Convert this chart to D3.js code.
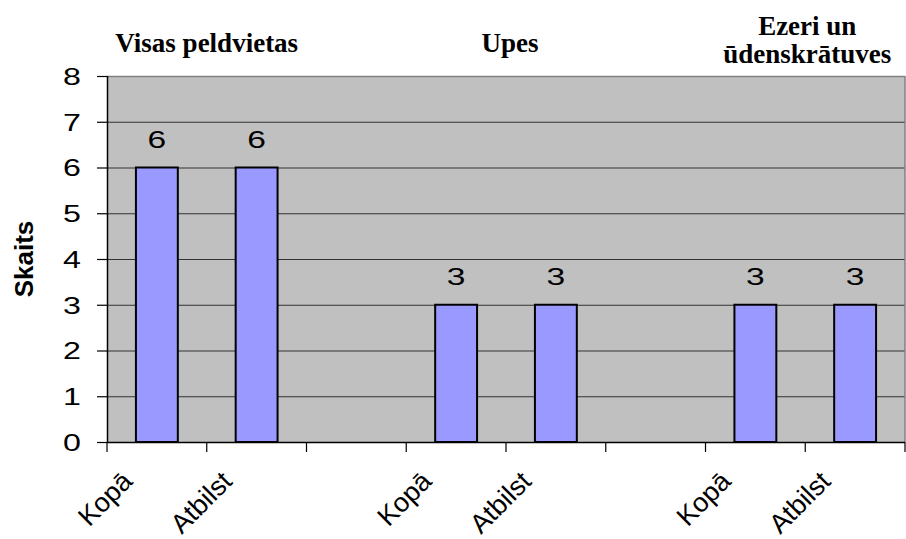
<!DOCTYPE html>
<html><head><meta charset="utf-8">
<script src="https://cdn.jsdelivr.net/npm/d3@7"></script>
<style>body{margin:0;background:#fff;}svg{display:block;}</style>
</head><body>
<svg id="c" width="906" height="539"></svg>
<script>
const categories = ["Kopā","Atbilst","","Kopā","Atbilst","","Kopā","Atbilst"];
const keys = ["a0","a1","gap1","b0","b1","gap2","c0","c1"];
const values = [6,6,null,3,3,null,3,3];
const groupTitles = [["Visas peldvietas"],["Upes"],["Ezeri un","ūdenskrātuves"]];
const groupCenters = [1,4,7]; // boundary index (between band i-1 and i)
const yTicks = [0,1,2,3,4,5,6,7,8];
const yLabel = "Skaits";

const svg = d3.select("#c");
const m = {l:107, r:1, t:76, b:97};
const W = 906, H = 539;
const SANS = "Liberation Sans, Arial, sans-serif";
const x = d3.scaleBand().domain(keys).range([m.l, W - m.r]).paddingInner(0).paddingOuter(0);
const y = d3.scaleLinear().domain([0,8]).range([H - m.b, m.t]);

// plot background
svg.append("rect").attr("x", m.l).attr("y", m.t).attr("width", W - m.r - m.l).attr("height", y(0) - m.t).attr("fill", "#C0C0C0");
// gridlines
svg.append("g").selectAll("line").data(yTicks.filter(d => d > 0 && d < 8)).join("line")
  .attr("x1", m.l).attr("x2", W - m.r).attr("y1", d => y(d) + 0.5).attr("y2", d => y(d) + 0.5)
  .attr("stroke", "#333").attr("stroke-width", 1);
// top/right border
svg.append("line").attr("x1", m.l).attr("x2", W - m.r).attr("y1", y(8)+0.5).attr("y2", y(8)+0.5).attr("stroke", "#808080").attr("stroke-width", 1.5);
svg.append("line").attr("x1", W - m.r).attr("x2", W - m.r).attr("y1", y(8)).attr("y2", y(0)).attr("stroke", "#808080").attr("stroke-width", 1.5);

// bars
const bw = x.bandwidth() * 0.42;
const data = keys.map((k,i) => ({k, v: values[i]})).filter(d => d.v != null);
svg.append("g").selectAll("rect").data(data).join("rect")
  .attr("x", d => x(d.k) + (x.bandwidth() - bw)/2)
  .attr("y", d => y(d.v))
  .attr("width", bw)
  .attr("height", d => y(0) - y(d.v))
  .attr("fill", "#9999FF").attr("stroke", "#000").attr("stroke-width", 2);
// value labels
svg.append("g").selectAll("text").data(data).join("text")
  .attr("transform", d => `translate(${x(d.k) + x.bandwidth()/2},${y(d.v) - 19.5}) scale(1.4,1)`)
  .attr("text-anchor", "middle")
  .attr("font-family", SANS).attr("font-size", 24).attr("fill", "#000")
  .text(d => d.v);

// y axis
const ya = svg.append("g").attr("transform", `translate(${m.l},0)`)
  .call(d3.axisLeft(y).tickValues(yTicks).tickSize(10).tickPadding(0).tickFormat(d3.format("d")));
ya.select(".domain").attr("stroke", "#000").attr("stroke-width", 1.5).attr("d", `M0.5,${y(8)}V${y(0)}`);
ya.selectAll(".tick line").attr("stroke", "#000").attr("stroke-width", 1.2);
ya.selectAll(".tick text").attr("font-family", SANS).attr("font-size", 23).attr("fill", "#000")
  .attr("x", 0).attr("dy", "0.36em").attr("text-anchor", "end")
  .attr("transform", "translate(-26,0) scale(1.4,1)");

// x axis
const xa = svg.append("g").attr("transform", `translate(0,${y(0)})`)
  .call(d3.axisBottom(x).tickSize(0).tickFormat((d,i) => categories[i]));
xa.select(".domain").attr("stroke", "#000").attr("stroke-width", 1.5).attr("d", `M${m.l},0.5H${W - m.r}`);
xa.selectAll(".tick text")
  .attr("font-family", SANS).attr("font-size", 27).attr("fill", "#000")
  .attr("text-anchor", "end").attr("dy", null).attr("y", 0)
  .attr("transform", "translate(-23,41) rotate(-45)");
// x tick marks at band boundaries
const bounds = keys.map(k => x(k)).concat([x.range()[1]]);
svg.append("g").selectAll("line").data(bounds).join("line")
  .attr("x1", d => d).attr("x2", d => d).attr("y1", y(0)).attr("y2", y(0) + 10)
  .attr("stroke", "#000").attr("stroke-width", 1.2);

// group titles
const titleDx = [0, 4, 2];
groupTitles.forEach((lines, gi) => {
  const bx = groupCenters[gi] < keys.length ? x(keys[groupCenters[gi]]) : x.range()[1];
  const t = svg.append("text").attr("text-anchor", "middle")
    .attr("font-family", "Liberation Serif, Times New Roman, serif").attr("font-weight", "bold").attr("font-size", 27).attr("fill", "#000");
  lines.forEach((ln, li) => {
    t.append("tspan").attr("x", bx + titleDx[gi]).attr("y", lines.length === 1 ? 52 : 35 + li * 28).text(ln);
  });
});

// y label
svg.append("text").attr("transform", `translate(33,${(y(0)+y(8))/2}) rotate(-90)`)
  .attr("text-anchor", "middle").attr("font-family", SANS)
  .attr("font-weight", "bold").attr("font-size", 26).attr("fill", "#000").text(yLabel);
</script>
</body></html>
